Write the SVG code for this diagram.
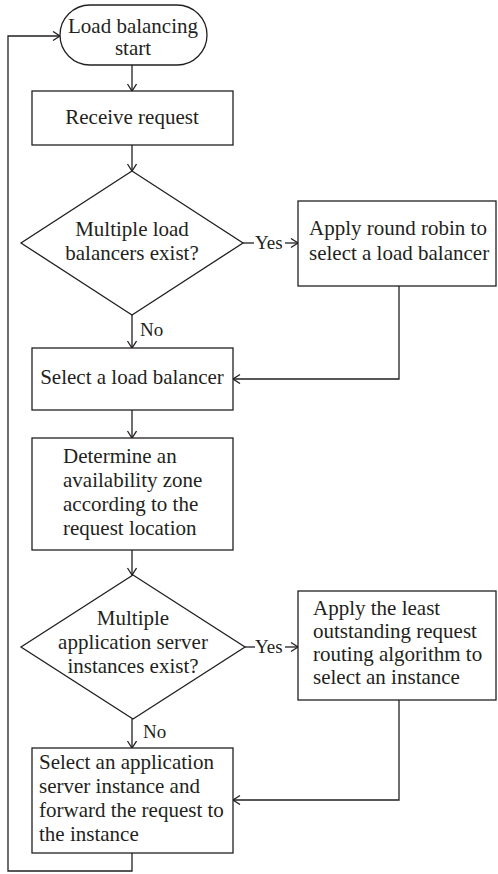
<svg xmlns="http://www.w3.org/2000/svg" width="498" height="874" viewBox="0 0 498 874">
<style>
.s{fill:#fff;stroke:#231f20;stroke-width:1.3}
.c{fill:none;stroke:#231f20;stroke-width:1.3}
text{font-family:"Liberation Serif","Times New Roman",serif;font-size:21px;fill:#231f20}
.m{text-anchor:middle}
.l{font-size:19px}
</style>
<defs>
<marker id="a" markerUnits="userSpaceOnUse" markerWidth="12" markerHeight="12" refX="8" refY="5" orient="auto">
<path d="M1,0.5 L8,5 L1,9.5" fill="none" stroke="#231f20" stroke-width="1.3"/>
</marker>
</defs>
<g id="connectors">
<line class="c" x1="132" y1="65" x2="132" y2="91" marker-end="url(#a)"/>
<line class="c" x1="132" y1="145" x2="132" y2="171" marker-end="url(#a)"/>
<line class="c" x1="243" y1="243" x2="254" y2="243"/>
<line class="c" x1="285" y1="243" x2="298" y2="243" marker-end="url(#a)"/>
<text class="l" x="255" y="249">Yes</text>
<line class="c" x1="132" y1="315" x2="132" y2="348" marker-end="url(#a)"/>
<text class="l" x="140" y="336">No</text>
<polyline class="c" points="399,286 399,379 233,379" marker-end="url(#a)"/>
<line class="c" x1="132" y1="410" x2="132" y2="438" marker-end="url(#a)"/>
<line class="c" x1="132" y1="550" x2="132" y2="575" marker-end="url(#a)"/>
<line class="c" x1="245" y1="647" x2="255" y2="647"/>
<line class="c" x1="285" y1="647" x2="298" y2="647" marker-end="url(#a)"/>
<text class="l" x="255" y="653">Yes</text>
<line class="c" x1="132" y1="719" x2="132" y2="748" marker-end="url(#a)"/>
<text class="l" x="143" y="738">No</text>
<polyline class="c" points="399,700 399,800 233,800" marker-end="url(#a)"/>
<polyline class="c" points="132,853 132,871 8,871 8,36 60,36" marker-end="url(#a)"/>
</g>
<g id="start">
<rect class="s" x="60" y="5" width="147" height="60" rx="30"/>
<text class="m" x="133" y="33">Load balancing</text>
<text class="m" x="133" y="55">start</text>
</g>
<g id="receive">
<rect class="s" x="32" y="91" width="201" height="54"/>
<text class="m" x="132" y="124">Receive request</text>
</g>
<g id="decision1">
<polygon class="s" points="132,171 243,243 132,315 21,243"/>
<text class="m" x="132" y="236">Multiple load</text>
<text class="m" x="132" y="260">balancers exist?</text>
</g>
<g id="roundrobin">
<rect class="s" x="298" y="201" width="198" height="85"/>
<text x="309" y="235">Apply round robin to</text>
<text x="309" y="260">select a load balancer</text>
</g>
<g id="selectlb">
<rect class="s" x="32" y="348" width="201" height="62"/>
<text class="m" x="132" y="384">Select a load balancer</text>
</g>
<g id="determine">
<rect class="s" x="32" y="438" width="201" height="112"/>
<text x="63" y="463">Determine an</text>
<text x="63" y="487">availability zone</text>
<text x="63" y="511">according to the</text>
<text x="63" y="535">request location</text>
</g>
<g id="decision2">
<polygon class="s" points="133,575 245,647 133,719 21,647"/>
<text class="m" x="133" y="625">Multiple</text>
<text class="m" x="133" y="649">application server</text>
<text class="m" x="133" y="673">instances exist?</text>
</g>
<g id="leastoutstanding">
<rect class="s" x="298" y="591" width="198" height="109"/>
<text x="313" y="615">Apply the least</text>
<text x="313" y="638">outstanding request</text>
<text x="313" y="661">routing algorithm to</text>
<text x="313" y="684">select an instance</text>
</g>
<g id="forward">
<rect class="s" x="32" y="748" width="201" height="105"/>
<text x="39" y="769">Select an application</text>
<text x="39" y="793">server instance and</text>
<text x="39" y="817">forward the request to</text>
<text x="39" y="841">the instance</text>
</g>
</svg>
